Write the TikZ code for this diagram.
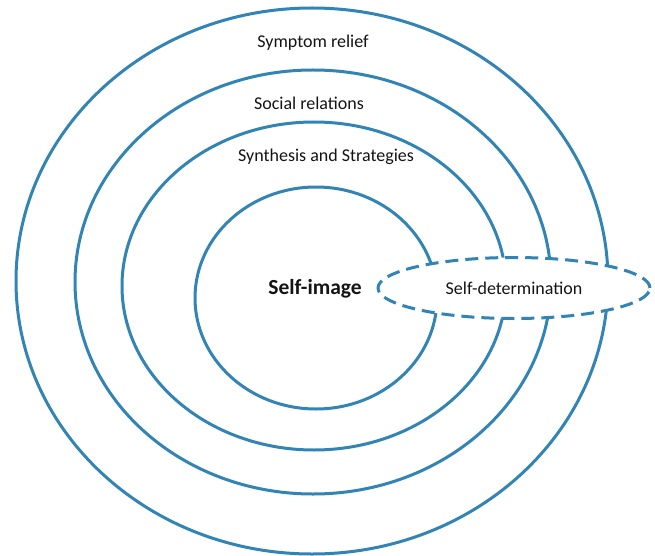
\documentclass[tikz,border=0pt]{standalone}
\usepackage{fontspec}
\setmainfont{Carlito}
\usetikzlibrary{shapes.geometric}
\definecolor{ringblue}{RGB}{50,132,180}
\tikzset{ring/.style={draw=ringblue, line width=3pt, ellipse, inner sep=0pt},
  layer/.style={text=black!92, font=\fontsize{18}{20}\selectfont}}

\begin{document}
\begin{tikzpicture}[x=1pt,y=-1pt]
  \useasboundingbox (0,0) rectangle (655,556);
  % rings, outside in
  \node[ring, minimum width=592pt, minimum height=546pt] (relief) at (312,281) {};
  \node[ring, minimum width=476pt, minimum height=424pt] (social) at (313,282) {};
  \node[ring, minimum width=384pt, minimum height=328pt] (synth) at (314,286) {};
  \node[ring, minimum width=242pt, minimum height=222pt] (core) at (316,298) {};
  % cuts across all rings
  \node[ring, fill=white, dash pattern=on 13pt off 7pt,
        minimum width=272pt, minimum height=61pt, layer] (determ) at (514,288) {Self-determination};
  % labels
  \node[layer] (reliefl) at (313,43) {Symptom relief};
  \node[layer] (sociall) at (309,103) {Social relations};
  \node[layer] (synthl) at (326,157) {Synthesis and Strategies};
  \node[text=black!92, font=\fontsize{21.5}{24}\selectfont\bfseries] (corel) at (315,289) {Self-image};
\end{tikzpicture}
\end{document}
